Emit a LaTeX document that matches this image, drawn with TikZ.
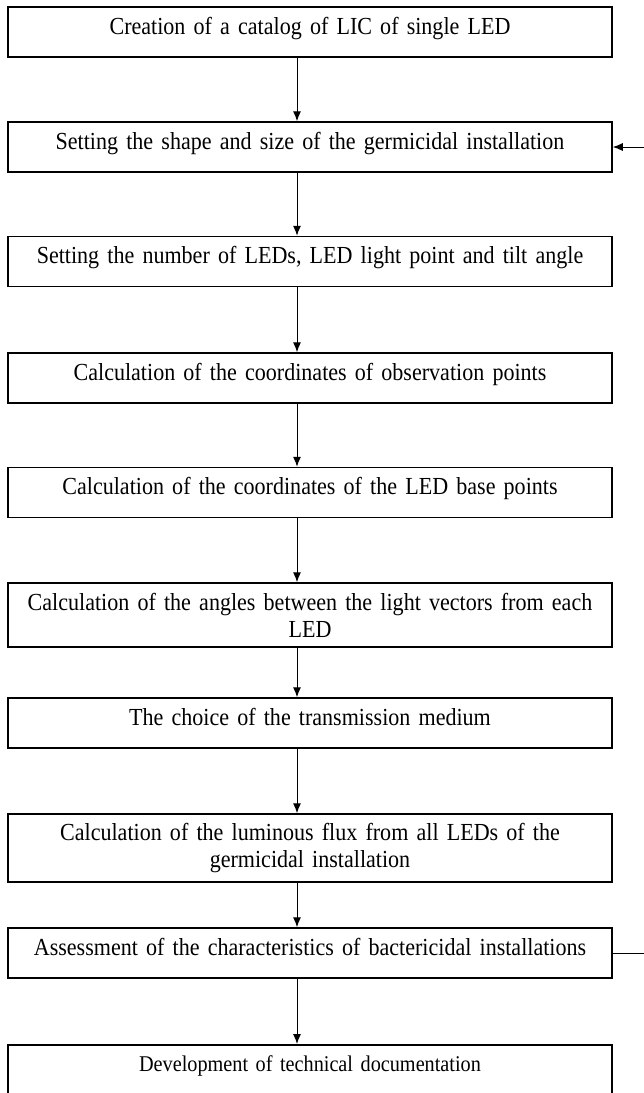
\documentclass[tikz,border=0pt]{standalone}
\usepackage{fontspec}
\setmainfont{Liberation Serif}[FakeStretch=0.9,WordSpace=0.75]
\usepackage{tikz}
\usetikzlibrary{arrows.meta,positioning,calc}

\begin{document}
\begin{tikzpicture}[x=1pt,y=1pt,
        box/.style={draw,line width=1.5pt,align=center,text width=594pt,minimum width=604pt,minimum height=50pt,inner sep=3pt,font=\fontsize{24.5}{27}\selectfont},
        single/.style={text height=14pt,text depth=10pt},
        arrow/.style={-{Latex[length=10pt,width=8pt]},line width=1pt}
      ]
        \useasboundingbox (0,0) rectangle (644,-1093);
        \coordinate (spine) at (297,0);
        \node[box,single] (catalog) at (310,-32) {Creation of a catalog of LIC of single LED};
        \node[box,single] (shape) at (310,-147) {Setting the shape and size of the germicidal installation};
        \node[box,single] (number) at (310,-261.5) {Setting the number of LEDs, LED light point and tilt angle};
        \node[box,single] (obs) at (310,-378) {Calculation of the coordinates of observation points};
        \node[box,single] (base) at (310,-492.5) {Calculation of the coordinates of the LED base points};
        \node[box,minimum height=64pt] (angles) at (310,-615) {Calculation of the angles between the light vectors from each\\LED};
        \node[box,single] (medium) at (310,-723) {The choice of the transmission medium};
        \node[box,minimum height=68pt] (flux) at (310,-848) {Calculation of the luminous flux from all LEDs of the\\germicidal installation};
        \node[box,single] (assess) at (310,-953) {Assessment of the characteristics of bactericidal installations};
        \node[box,anchor=north,inner ysep=13pt,text height=14pt,text depth=60pt,font=\fontsize{22.5}{26}\selectfont] (doc) at (310,-1044) {Development of technical documentation};
        \draw[arrow] (catalog.south -| spine) -- (shape.north -| spine);
        \draw[arrow] (shape.south -| spine) -- (number.north -| spine);
        \draw[arrow] (number.south -| spine) -- (obs.north -| spine);
        \draw[arrow] (obs.south -| spine) -- (base.north -| spine);
        \draw[arrow] (base.south -| spine) -- (angles.north -| spine);
        \draw[arrow] (angles.south -| spine) -- (medium.north -| spine);
        \draw[arrow] (medium.south -| spine) -- (flux.north -| spine);
        \draw[arrow] (flux.south -| spine) -- (assess.north -| spine);
        \draw[arrow] (assess.south -| spine) -- (doc.north -| spine);
        % feedback to the shape setting
        \draw[arrow] (assess.east) -- ++(45,0) |- (shape.east);
      \end{tikzpicture}
\end{document}
